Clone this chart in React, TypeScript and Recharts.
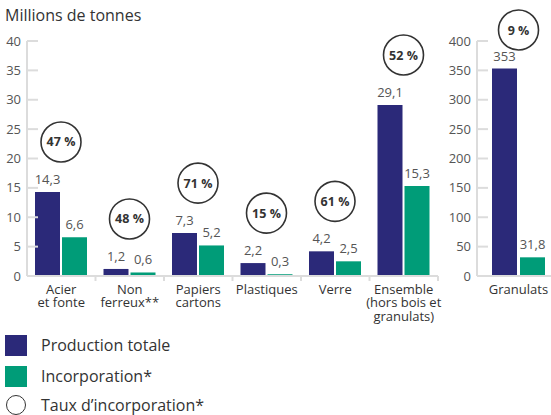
import { BarChart, Bar, XAxis, YAxis, LabelList } from "recharts";

const categories = ["Acier\net fonte", "Non\nferreux**", "Papiers\ncartons", "Plastiques", "Verre", "Ensemble\n(hors bois et\ngranulats)"];
const production = [14.3, 1.2, 7.3, 2.2, 4.2, 29.1];
const incorporation = [6.6, 0.6, 5.2, 0.3, 2.5, 15.3];
const taux = [47, 48, 71, 15, 61, 52];
const leftTicks = [0, 5, 10, 15, 20, 25, 30, 35, 40];

const granulatsCategories = ["Granulats"];
const granulatsProduction = [353];
const granulatsIncorporation = [31.8];
const granulatsTaux = [9];
const rightTicks = [0, 50, 100, 150, 200, 250, 300, 350, 400];

const BLUE = "#2b2979";
const GREEN = "#009c78";
const AXIS = "#dcdcdc";
const FONT = "'Open Sans', Lato, sans-serif";

const leftData = categories.map((name, i) => ({
  name,
  production: production[i],
  incorporation: incorporation[i],
  taux: taux[i],
}));

const rightData = granulatsCategories.map((name, i) => ({
  name,
  production: granulatsProduction[i],
  incorporation: granulatsIncorporation[i],
  taux: granulatsTaux[i],
}));

const fmt = (v: any) => String(v).replace(".", ",");

const ValueTick = (props: any) => {
  const { x, y, payload } = props;
  return (
    <g>
      <line x1={x + 6} x2={x + 17} y1={y} y2={y} stroke={AXIS} strokeWidth={2} />
      <text x={x} y={y + 4.5} textAnchor="end" fontSize={13} fill="#555" fontFamily={FONT}>
        {payload.value}
      </text>
    </g>
  );
};

const makeCategoryTick = (count: number) => (props: any) => {
  const { x, y, payload, index } = props;
  const half = payload.offset || 34;
  const lines = String(payload.value).split("\n");
  return (
    <g>
      {index > 0 && <line x1={x - half} x2={x - half} y1={y} y2={y + 5} stroke={AXIS} strokeWidth={2} />}
      {index === count - 1 && <line x1={x + half} x2={x + half} y1={y} y2={y + 5} stroke={AXIS} strokeWidth={2} />}
      {lines.map((l, i) => (
        <text key={i} x={x} y={y + 17.5 + i * 13.5} textAnchor="middle" fontSize={13} fill="#333" fontFamily={FONT} fontWeight={500}>
          {l}
        </text>
      ))}
    </g>
  );
};

const makeRateBubble = (gap: number) => (props: any) => {
  const vb = props.viewBox || props;
  const { x, y, width } = vb;
  const cx = x + width + gap / 2;
  const cy = Math.max(y - 50, 30);
  return (
    <g>
      <circle cx={cx} cy={cy} r={20} fill="#fff" stroke="#333" strokeWidth={1.6} />
      <text x={cx} y={cy + 4.5} textAnchor="middle" fontSize={12.5} fontWeight={700} fill="#333" fontFamily={FONT}>
        {props.value} %
      </text>
    </g>
  );
};

const valueLabelStyle = { fontSize: 13, fill: "#555", fontFamily: FONT };

const Panel = ({ data, ticks, max, width, left, gap, axisWidth, right }: any) => (
  <div style={{ position: "absolute", left, top: 0 }}>
    <BarChart width={width} height={326} data={data} margin={{ top: 41, right, bottom: 0, left: 0 }} barGap={gap} barSize={25}>
      <YAxis
        type="number"
        domain={[0, max]}
        ticks={ticks}
        width={axisWidth}
        axisLine={{ stroke: AXIS, strokeWidth: 2 }}
        tickLine={false}
        tickSize={0}
        tickMargin={6}
        tick={<ValueTick />}
        interval={0}
      />
      <XAxis
        dataKey="name"
        height={50}
        axisLine={{ stroke: AXIS, strokeWidth: 2 }}
        tickLine={false}
        tickSize={0}
        tickMargin={0}
        interval={0}
        tick={makeCategoryTick(data.length)}
      />
      <Bar dataKey="production" fill={BLUE} isAnimationActive={false}>
        <LabelList dataKey="production" position="top" offset={8} formatter={fmt} style={valueLabelStyle} />
        <LabelList dataKey="taux" content={makeRateBubble(gap)} />
      </Bar>
      <Bar dataKey="incorporation" fill={GREEN} isAnimationActive={false}>
        <LabelList dataKey="incorporation" position="top" offset={8} formatter={fmt} style={valueLabelStyle} />
      </Bar>
    </BarChart>
  </div>
);

const LegendRow = ({ top, children, marker }: any) => (
  <div style={{ position: "absolute", left: 5, top, height: 20, display: "flex", alignItems: "center" }}>
    <div style={{ width: 22, display: "flex", justifyContent: "center" }}>{marker}</div>
    <span style={{ marginLeft: 14, fontSize: 16, lineHeight: "16px", color: "#333", fontFamily: FONT }}>{children}</span>
  </div>
);

export default function App() {
  return (
    <div
      style={{
        position: "absolute",
        left: 0,
        top: 0,
        width: 551,
        height: 415,
        overflow: "hidden",
        background: "#fff",
        fontFamily: FONT,
      }}
    >
      <Panel data={leftData} ticks={leftTicks} max={40} width={465} left={0} gap={2} axisWidth={27} right={27} />
      <Panel data={rightData} ticks={rightTicks} max={400} width={120} left={440} gap={3} axisWidth={37} right={0} />
      <div style={{ position: "absolute", left: 5, top: 4, fontSize: 16, color: "#333", fontFamily: FONT }}>
        Millions de tonnes
      </div>
      <LegendRow top={335} marker={<div style={{ width: 22, height: 21, background: BLUE }} />}>
        Production totale
      </LegendRow>
      <LegendRow top={366} marker={<div style={{ width: 22, height: 21, background: GREEN }} />}>
        Incorporation*
      </LegendRow>
      <LegendRow
        top={395}
        marker={<div style={{ width: 20, height: 20, borderRadius: "50%", border: "1.6px solid #333", boxSizing: "border-box" }} />}
      >
        Taux d’incorporation*
      </LegendRow>
    </div>
  );
}
